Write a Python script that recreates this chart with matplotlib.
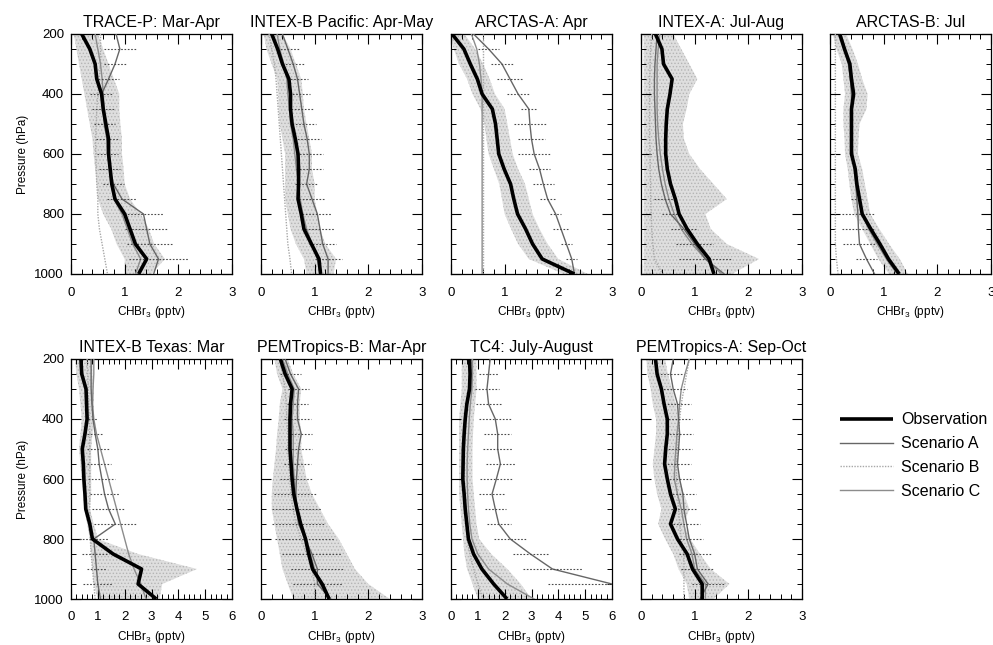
import matplotlib
matplotlib.use("Agg")
import matplotlib.pyplot as plt
from matplotlib.lines import Line2D
from matplotlib.ticker import MultipleLocator

plt.rcParams['font.family'] = ['Liberation Sans', 'DejaVu Sans']
plt.rcParams['mathtext.fontset'] = 'custom'
plt.rcParams['mathtext.rm'] = 'Liberation Sans'
plt.rcParams['mathtext.it'] = 'Liberation Sans:italic'
plt.rcParams['hatch.linewidth'] = 0.6

# ---------------- data ----------------
PRESSURE = [200, 250, 300, 350, 400, 450, 500, 550, 600, 650, 700, 750, 800, 850, 900, 950, 1000]

TITLES = ["TRACE-P: Mar-Apr", "INTEX-B Pacific: Apr-May", "ARCTAS-A: Apr", "INTEX-A: Jul-Aug",
          "ARCTAS-B: Jul", "INTEX-B Texas: Mar", "PEMTropics-B: Mar-Apr", "TC4: July-August",
          "PEMTropics-A: Sep-Oct"]
XMAX = [3, 3, 3, 3, 3, 6, 3, 6, 3]
LEGEND_LABELS = ["Observation", "Scenario A", "Scenario B", "Scenario C"]

TRACEP_OBS = [0.2, 0.35, 0.45, 0.48, 0.57, 0.6, 0.65, 0.7, 0.7, 0.73, 0.76, 0.82, 1.0, 1.1, 1.2, 1.41, 1.26]
TRACEP_LO = [0.05, 0.1, 0.15, 0.2, 0.25, 0.3, 0.35, 0.4, 0.42, 0.45, 0.48, 0.5, 0.6, 0.75, 0.85, 1.0, 1.0]
TRACEP_HI = [0.5, 0.6, 0.7, 0.8, 0.9, 0.9, 0.92, 0.95, 0.95, 0.98, 1.0, 1.1, 1.3, 1.45, 1.55, 1.75, 1.5]
TRACEP_A = [0.84, 0.91, 0.82, 0.7, 0.57, 0.6, 0.62, 0.67, 0.68, 0.72, 0.79, 0.95, 1.35, 1.41, 1.47, 1.63, 1.54]
TRACEP_AERR = [0, 0.3, 0.2, 0.2, 0.22, 0.2, 0.2, 0.2, 0.2, 0.2, 0.2, 0.27, 0.37, 0.4, 0.42, 0.55, 0]
TRACEP_B = [0.55, 0.55, 0.55, 0.52, 0.5, 0.48, 0.47, 0.46, 0.46, 0.47, 0.48, 0.5, 0.5, 0.53, 0.58, 0.63, 0.68]
TRACEP_C = [0.45, 0.5, 0.55, 0.58, 0.6, 0.62, 0.65, 0.68, 0.7, 0.72, 0.75, 0.8, 0.95, 1.05, 1.15, 1.3, 1.2]

INTEXBP_OBS = [0.2, 0.31, 0.4, 0.52, 0.55, 0.55, 0.58, 0.64, 0.69, 0.7, 0.7, 0.69, 0.75, 0.8, 0.94, 1.08, 1.11]
INTEXBP_LO = [0.05, 0.1, 0.2, 0.3, 0.32, 0.33, 0.35, 0.4, 0.45, 0.45, 0.45, 0.45, 0.5, 0.55, 0.65, 0.8, 0.85]
INTEXBP_HI = [0.4, 0.55, 0.65, 0.75, 0.78, 0.8, 0.85, 0.9, 0.95, 0.95, 1.0, 1.0, 1.05, 1.1, 1.2, 1.4, 1.35]
INTEXBP_A = [0.4, 0.5, 0.6, 0.68, 0.72, 0.76, 0.8, 0.86, 0.9, 0.9, 0.85, 0.95, 1.05, 1.1, 1.15, 1.25, 1.25]
INTEXBP_AERR = [0, 0.2, 0.2, 0.2, 0.2, 0.2, 0.22, 0.25, 0.25, 0.25, 0.22, 0.25, 0.28, 0.28, 0.25, 0.25, 0]
INTEXBP_B = [0.15, 0.2, 0.25, 0.28, 0.3, 0.32, 0.34, 0.36, 0.38, 0.4, 0.42, 0.44, 0.46, 0.48, 0.5, 0.54, 0.57]
INTEXBP_C = [0.3, 0.35, 0.42, 0.48, 0.5, 0.53, 0.55, 0.6, 0.63, 0.66, 0.7, 0.73, 0.78, 0.85, 0.95, 1.05, 1.1]

ARCTASA_OBS = [0.02, 0.24, 0.36, 0.49, 0.58, 0.77, 0.83, 0.86, 0.89, 0.99, 1.11, 1.17, 1.24, 1.39, 1.52, 1.7, 2.3]
ARCTASA_LO = [0.0, 0.05, 0.15, 0.3, 0.4, 0.55, 0.62, 0.66, 0.7, 0.8, 0.9, 0.95, 1.0, 1.12, 1.25, 1.45, 2.1]
ARCTASA_HI = [0.25, 0.45, 0.6, 0.72, 0.82, 1.0, 1.05, 1.1, 1.15, 1.25, 1.38, 1.45, 1.52, 1.65, 1.8, 2.0, 2.55]
ARCTASA_A = [0.42, 0.7, 0.95, 1.1, 1.25, 1.45, 1.47, 1.5, 1.55, 1.65, 1.72, 1.8, 1.95, 2.05, 2.15, 2.25, 2.3]
ARCTASA_AERR = [0, 0.2, 0.2, 0.25, 0.2, 0.15, 0.3, 0.25, 0.3, 0.2, 0.2, 0.15, 0.1, 0.15, 0.1, 0.1, 0]
ARCTASA_B = [0.6, 0.6, 0.6, 0.6, 0.6, 0.6, 0.6, 0.6, 0.6, 0.6, 0.6, 0.6, 0.6, 0.6, 0.6, 0.6, 0.6]
ARCTASA_C = [0.38, 0.48, 0.53, 0.56, 0.58, 0.58, 0.58, 0.58, 0.58, 0.58, 0.58, 0.58, 0.58, 0.58, 0.58, 0.58, 0.58]

INTEXA_OBS = [0.27, 0.39, 0.42, 0.58, 0.54, 0.49, 0.47, 0.46, 0.46, 0.49, 0.55, 0.64, 0.71, 0.86, 1.05, 1.27, 1.36]
INTEXA_LO = [0.05, 0.05, 0.05, 0.05, 0.05, 0.05, 0.05, 0.05, 0.05, 0.05, 0.05, 0.05, 0.05, 0.05, 0.05, 0.05, 0.05]
INTEXA_HI = [0.6, 0.75, 0.9, 1.05, 0.9, 0.85, 0.78, 0.8, 0.9, 1.1, 1.35, 1.6, 1.2, 1.3, 1.6, 2.2, 1.7]
INTEXA_A = [0.3, 0.28, 0.26, 0.25, 0.25, 0.26, 0.27, 0.28, 0.3, 0.33, 0.38, 0.45, 0.55, 0.8, 1.0, 1.2, 1.55]
INTEXA_AERR = [0, 0, 0, 0, 0, 0, 0, 0, 0, 0, 0, 0.2, 0.15, 0.25, 0.35, 0.5, 0]
INTEXA_B = [0.2, 0.18, 0.17, 0.16, 0.16, 0.16, 0.16, 0.16, 0.17, 0.17, 0.18, 0.18, 0.19, 0.2, 0.22, 0.25, 0.4]
INTEXA_C = [0.35, 0.32, 0.3, 0.3, 0.3, 0.3, 0.31, 0.33, 0.36, 0.4, 0.45, 0.52, 0.62, 0.75, 0.95, 1.2, 1.5]

ARCTASB_OBS = [0.18, 0.27, 0.37, 0.4, 0.44, 0.4, 0.4, 0.4, 0.4, 0.47, 0.5, 0.55, 0.6, 0.76, 0.93, 1.09, 1.29]
ARCTASB_LO = [0.05, 0.12, 0.22, 0.25, 0.28, 0.25, 0.25, 0.27, 0.28, 0.33, 0.36, 0.4, 0.45, 0.6, 0.75, 0.9, 1.1]
ARCTASB_HI = [0.3, 0.42, 0.52, 0.6, 0.7, 0.68, 0.55, 0.53, 0.52, 0.6, 0.65, 0.7, 0.75, 0.92, 1.1, 1.3, 1.45]
ARCTASB_A = [0.2, 0.28, 0.35, 0.38, 0.4, 0.4, 0.4, 0.4, 0.42, 0.45, 0.48, 0.5, 0.52, 0.53, 0.55, 0.68, 0.83]
ARCTASB_AERR = [0, 0, 0, 0, 0, 0, 0, 0, 0, 0, 0, 0.1, 0.3, 0.3, 0.3, 0.2, 0]
ARCTASB_B = [0.1, 0.1, 0.1, 0.1, 0.1, 0.1, 0.1, 0.1, 0.1, 0.1, 0.1, 0.1, 0.1, 0.1, 0.1, 0.12, 0.15]
ARCTASB_C = [0.18, 0.26, 0.34, 0.38, 0.41, 0.4, 0.4, 0.41, 0.42, 0.46, 0.5, 0.55, 0.6, 0.72, 0.88, 1.05, 1.25]

INTEXBT_OBS = [0.37, 0.4, 0.56, 0.58, 0.6, 0.52, 0.42, 0.46, 0.48, 0.52, 0.55, 0.7, 0.8, 1.57, 2.63, 2.5, 3.18]
INTEXBT_LO = [0.15, 0.2, 0.3, 0.35, 0.4, 0.35, 0.3, 0.35, 0.4, 0.45, 0.5, 0.6, 0.7, 0.75, 0.8, 0.85, 1.0]
INTEXBT_HI = [0.8, 0.8, 0.85, 0.85, 0.85, 0.8, 0.75, 0.75, 0.75, 0.75, 0.7, 0.85, 1.0, 2.5, 4.7, 3.4, 3.3]
INTEXBT_A = [0.75, 0.75, 0.75, 0.78, 0.82, 0.9, 1.0, 1.05, 1.15, 1.25, 1.4, 1.65, 0.85, 0.9, 0.95, 1.0, 1.1]
INTEXBT_AERR = [0, 0, 0, 0, 0.2, 0.3, 0.4, 0.45, 0.5, 0.55, 0.6, 0.8, 0.55, 0.5, 0.35, 0.55, 0]
INTEXBT_B = [0.6, 0.62, 0.64, 0.66, 0.68, 0.7, 0.7, 0.7, 0.7, 0.7, 0.7, 0.7, 0.72, 0.75, 0.8, 0.85, 0.9]
INTEXBT_C = [0.85, 0.85, 0.82, 0.8, 0.85, 0.95, 1.1, 1.25, 1.4, 1.55, 1.7, 1.85, 2.0, 2.15, 2.35, 2.6, 2.8]

PEMTB_OBS = [0.36, 0.45, 0.58, 0.55, 0.54, 0.54, 0.54, 0.56, 0.58, 0.61, 0.67, 0.74, 0.83, 0.89, 0.96, 1.14, 1.27]
PEMTB_LO = [0.25, 0.3, 0.4, 0.35, 0.33, 0.3, 0.28, 0.25, 0.22, 0.2, 0.2, 0.25, 0.3, 0.35, 0.4, 0.5, 0.6]
PEMTB_HI = [0.5, 0.6, 0.75, 0.72, 0.72, 0.75, 0.75, 0.8, 0.85, 0.95, 1.1, 1.25, 1.45, 1.6, 1.75, 2.0, 2.4]
PEMTB_A = [0.45, 0.55, 0.7, 0.68, 0.68, 0.75, 0.7, 0.68, 0.66, 0.65, 0.66, 0.7, 0.82, 0.95, 1.05, 1.05, 1.3]
PEMTB_AERR = [0, 0.2, 0.2, 0.2, 0.25, 0.2, 0.25, 0.25, 0.3, 0.4, 0.45, 0.5, 0.55, 0.55, 0.5, 0.45, 0]
PEMTB_B = [0.35, 0.4, 0.45, 0.47, 0.48, 0.5, 0.5, 0.52, 0.54, 0.56, 0.6, 0.65, 0.75, 0.85, 0.95, 1.0, 1.0]
PEMTB_C = [0.4, 0.5, 0.62, 0.6, 0.58, 0.6, 0.6, 0.6, 0.62, 0.64, 0.68, 0.74, 0.83, 0.92, 1.0, 1.1, 1.28]

TC4_OBS = [0.69, 0.71, 0.69, 0.59, 0.53, 0.49, 0.46, 0.45, 0.44, 0.49, 0.53, 0.59, 0.65, 0.84, 1.15, 1.59, 2.09]
TC4_LO = [0.4, 0.4, 0.4, 0.35, 0.3, 0.3, 0.3, 0.3, 0.3, 0.3, 0.35, 0.4, 0.45, 0.5, 0.6, 0.8, 1.0]
TC4_HI = [0.95, 0.95, 0.95, 0.9, 0.85, 0.82, 0.8, 0.8, 0.8, 0.85, 0.9, 0.95, 1.05, 1.5, 2.1, 2.6, 3.0]
TC4_A = [1.46, 1.4, 1.34, 1.4, 1.65, 1.74, 1.74, 1.84, 1.69, 1.53, 1.65, 1.78, 2.21, 2.96, 3.78, 6.0, 7.5]
TC4_AERR = [0, 0.35, 0.45, 0.45, 0.6, 0.5, 0.55, 0.55, 0.6, 0.5, 0.4, 0.45, 0.6, 0.65, 1.1, 2.4, 0]
TC4_B = [0.75, 0.7, 0.65, 0.6, 0.55, 0.5, 0.5, 0.5, 0.5, 0.5, 0.5, 0.55, 0.6, 0.7, 0.85, 1.0, 1.2]
TC4_C = [0.8, 0.8, 0.78, 0.72, 0.68, 0.65, 0.62, 0.6, 0.6, 0.62, 0.65, 0.7, 0.78, 1.0, 1.4, 2.1, 3.1]

PEMTA_OBS = [0.27, 0.3, 0.38, 0.43, 0.49, 0.49, 0.46, 0.44, 0.49, 0.55, 0.64, 0.55, 0.68, 0.86, 0.96, 1.14, 1.14]
PEMTA_LO = [0.1, 0.12, 0.18, 0.22, 0.28, 0.28, 0.25, 0.22, 0.25, 0.3, 0.38, 0.32, 0.45, 0.6, 0.7, 0.85, 0.9]
PEMTA_HI = [0.45, 0.5, 0.58, 0.65, 0.7, 0.7, 0.68, 0.68, 0.72, 0.8, 0.9, 0.8, 0.92, 1.1, 1.3, 1.65, 1.35]
PEMTA_A = [0.6, 0.55, 0.6, 0.68, 0.7, 0.72, 0.7, 0.68, 0.72, 0.78, 0.8, 0.85, 0.9, 1.0, 1.05, 1.25, 1.1]
PEMTA_AERR = [0, 0.25, 0.25, 0.25, 0.25, 0.25, 0.25, 0.25, 0.25, 0.25, 0.25, 0.25, 0.25, 0.3, 0.3, 0.3, 0]
PEMTA_B = [0.9, 0.85, 0.8, 0.75, 0.72, 0.7, 0.68, 0.66, 0.66, 0.68, 0.7, 0.72, 0.75, 0.8, 0.8, 0.8, 0.8]
PEMTA_C = [0.9, 0.82, 0.75, 0.72, 0.7, 0.67, 0.65, 0.63, 0.62, 0.68, 0.75, 0.8, 0.85, 0.95, 1.0, 1.2, 1.2]

PANELS = [
    (TRACEP_OBS, TRACEP_LO, TRACEP_HI, TRACEP_A, TRACEP_AERR, TRACEP_B, TRACEP_C),
    (INTEXBP_OBS, INTEXBP_LO, INTEXBP_HI, INTEXBP_A, INTEXBP_AERR, INTEXBP_B, INTEXBP_C),
    (ARCTASA_OBS, ARCTASA_LO, ARCTASA_HI, ARCTASA_A, ARCTASA_AERR, ARCTASA_B, ARCTASA_C),
    (INTEXA_OBS, INTEXA_LO, INTEXA_HI, INTEXA_A, INTEXA_AERR, INTEXA_B, INTEXA_C),
    (ARCTASB_OBS, ARCTASB_LO, ARCTASB_HI, ARCTASB_A, ARCTASB_AERR, ARCTASB_B, ARCTASB_C),
    (INTEXBT_OBS, INTEXBT_LO, INTEXBT_HI, INTEXBT_A, INTEXBT_AERR, INTEXBT_B, INTEXBT_C),
    (PEMTB_OBS, PEMTB_LO, PEMTB_HI, PEMTB_A, PEMTB_AERR, PEMTB_B, PEMTB_C),
    (TC4_OBS, TC4_LO, TC4_HI, TC4_A, TC4_AERR, TC4_B, TC4_C),
    (PEMTA_OBS, PEMTA_LO, PEMTA_HI, PEMTA_A, PEMTA_AERR, PEMTA_B, PEMTA_C),
]

# ---------------- styles ----------------
W, H = 993, 645
fig = plt.figure(figsize=(W / 100, H / 100), dpi=100)

LEFTS = [71, 261, 451, 641, 830]
ROW_TOP = [34, 359]
AX_W, AX_H = 161, 240

OBS_STYLE = dict(color='black', lw=2.6, solid_capstyle='butt', zorder=6)
A_STYLE = dict(color='#666666', lw=1.0, zorder=5)
B_STYLE = dict(color='#a8a8a8', lw=1.0, ls=(0, (1, 1)), zorder=3)
C_STYLE = dict(color='#8c8c8c', lw=1.0, zorder=4)

for i, (title, xmax, series) in enumerate(zip(TITLES, XMAX, PANELS)):
    obs, lo, hi, a, aerr, b, c = series
    row, col = divmod(i, 5)
    left = LEFTS[col]
    top = ROW_TOP[row]
    ax = fig.add_axes([left / W, 1 - (top + AX_H) / H, AX_W / W, AX_H / H])
    ax.fill_betweenx(PRESSURE, lo, hi, facecolor='#dedede', edgecolor='#b4b4b4',
                     hatch='.....', lw=0, zorder=1)
    ax.plot(b, PRESSURE, **B_STYLE)
    ax.plot(c, PRESSURE, **C_STYLE)
    ax.plot(a, PRESSURE, **A_STYLE)
    for p, v, e in zip(PRESSURE, a, aerr):
        if e > 0:
            ax.hlines(p, v - e, v + e, colors='#4a4a4a', lw=0.8, linestyles=(0, (1.5, 1.5)), zorder=5)
    ax.plot(obs, PRESSURE, **OBS_STYLE)

    ax.set_xlim(0, xmax)
    ax.set_ylim(1000, 200)
    ax.xaxis.set_major_locator(MultipleLocator(1))
    ax.xaxis.set_minor_locator(MultipleLocator(0.2))
    ax.yaxis.set_major_locator(MultipleLocator(200))
    ax.yaxis.set_minor_locator(MultipleLocator(50))
    ax.tick_params(which='both', direction='in', top=True, right=True, labelsize=9.5)
    ax.tick_params(axis='x', pad=9)
    ax.tick_params(axis='y', pad=5)
    ax.tick_params(which='major', length=7, width=0.8)
    ax.tick_params(which='minor', length=3.5, width=0.7)
    for s in ax.spines.values():
        s.set_linewidth(0.9)
    ax.set_title(title, fontsize=11.5, pad=5)
    ax.set_xlabel('CHBr$_3$ (pptv)', fontsize=8.5, labelpad=4)
    if col == 0:
        ax.set_ylabel('Pressure (hPa)', fontsize=8.5, labelpad=4)
    else:
        ax.tick_params(labelleft=False)

handles = [Line2D([], [], **{k: v for k, v in OBS_STYLE.items() if k != 'zorder'}),
           Line2D([], [], **{k: v for k, v in A_STYLE.items() if k != 'zorder'}),
           Line2D([], [], **{k: v for k, v in B_STYLE.items() if k != 'zorder'}),
           Line2D([], [], **{k: v for k, v in C_STYLE.items() if k != 'zorder'})]
fig.legend(handles, LEGEND_LABELS, loc='upper left', bbox_to_anchor=(826 / W, 1 - 398 / H),
           frameon=False, fontsize=11.5, handlelength=3.3, handletextpad=0.5, labelspacing=0.55)

fig.savefig('out.png', dpi=100)
